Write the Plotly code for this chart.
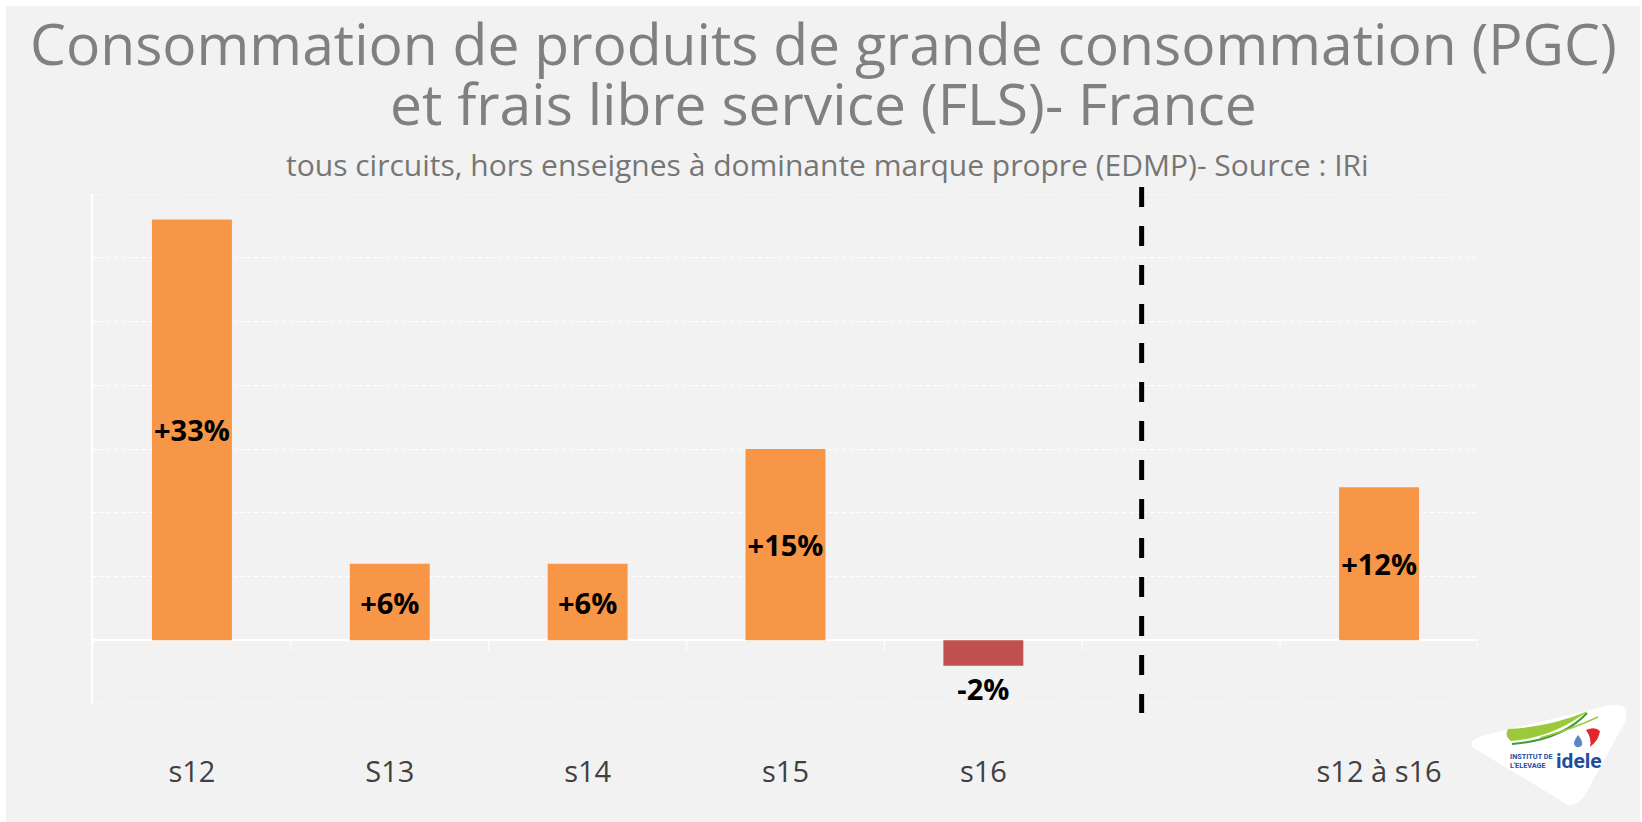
import plotly.graph_objects as go

# ---------------- data ----------------
categories = ["s12", "S13", "s14", "s15", "s16", " ", "s12 à s16"]
values = [33, 6, 6, 15, -2, None, 12]
title_line1 = "Consommation de produits de grande consommation (PGC)"
title_line2 = "et frais libre service (FLS)- France"
subtitle = "tous circuits, hors enseignes à dominante marque propre (EDMP)- Source : IRi"

ORANGE = "#F79646"
RED = "#C0504D"

# ---------------- layout geometry (pixels) ----------------
W, H = 1642, 822
X0, X1 = 93, 1478   # plot left/right
Y0, Y1 = 194, 704   # plot top/bottom


def px(x):
    return (x - X0) / (X1 - X0)


def py(y):
    return (Y1 - y) / (Y1 - Y0)


colors = [RED if (v is not None and v < 0) else ORANGE for v in values]
textpos = ["outside" if (v is not None and v < 0) else "inside" for v in values]
labels = ["" if v is None else f"{v:+d}%" for v in values]

fig = go.Figure()
fig.add_trace(go.Bar(
    x=categories, y=values,
    marker=dict(color=colors, line=dict(width=0)),
    text=labels,
    textposition=textpos,
    textangle=0,
    insidetextanchor="middle",
    constraintext="none",
    cliponaxis=False,
    textfont=dict(family="Open Sans", size=29, color="black", weight="bold"),
    hoverinfo="skip",
))

shapes = []
# background panel (white frame around grey)
shapes.append(dict(type="rect", xref="paper", yref="paper",
                   x0=px(6), x1=px(1640), y0=py(6), y1=py(822),
                   fillcolor="#F2F2F2", line=dict(width=0), layer="below"))
# edge gridlines (top / bottom of the value range)
for yv in (-5, 35):
    shapes.append(dict(type="line", xref="paper", yref="y",
                       x0=0, x1=1, y0=yv, y1=yv,
                       line=dict(color="white", width=1, dash="4px,3px"), layer="below"))
# small ticks below the zero line at category boundaries
for k in range(len(categories) + 1):
    shapes.append(dict(type="line", xref="x", yref="y",
                       x0=k - 0.5, x1=k - 0.5, y0=0, y1=-0.78,
                       line=dict(color="white", width=1.2), layer="below"))
# dashed separator
shapes.append(dict(type="line", xref="x", yref="paper",
                   x0=4.8, x1=4.8, y0=py(187), y1=py(713),
                   line=dict(color="black", width=5, dash="20px,19px"), layer="above"))

# ---- logo ----
def P(x, y):
    return f"{px(x):.5f},{py(y):.5f}"
logo_path = (
    f"M {P(1486,735)} L {P(1606,706)} Q {P(1632,700)} {P(1625,722)} "
    f"L {P(1585,795)} Q {P(1573,812)} {P(1560,800)} "
    f"L {P(1477,750)} Q {P(1462,742)} {P(1486,735)} Z"
)
shapes.append(dict(type="path", xref="paper", yref="paper", path=logo_path,
                   fillcolor="white", line=dict(width=0), layer="above"))
green_path = (
    f"M {P(1508,729)} Q {P(1550,727)} {P(1588,711)} "
    f"Q {P(1552,738)} {P(1511,741)} Q {P(1504,736)} {P(1508,729)} Z"
)
shapes.append(dict(type="path", xref="paper", yref="paper", path=green_path,
                   fillcolor="#9CC93B", line=dict(width=0), layer="above"))
shapes.append(dict(type="path", xref="paper", yref="paper",
                   path=f"M {P(1512,744)} Q {P(1562,740)} {P(1587,713)}",
                   line=dict(color="#3E9B3A", width=2), layer="above"))
shapes.append(dict(type="path", xref="paper", yref="paper",
                   path=f"M {P(1540,738)} Q {P(1575,728)} {P(1598,717)}",
                   line=dict(color="#9CC93B", width=1.5), layer="above"))
red_path = (
    f"M {P(1586,730)} Q {P(1595,726)} {P(1600,731)} Q {P(1599,740)} {P(1590,747)} "
    f"Q {P(1592,738)} {P(1586,730)} Z"
)
shapes.append(dict(type="path", xref="paper", yref="paper", path=red_path,
                   fillcolor="#E3262B", line=dict(width=0), layer="above"))
shapes.append(dict(type="path", xref="paper", yref="paper",
                   path=f"M {P(1578,735)} Q {P(1572,743)} {P(1575,746)} Q {P(1579,749)} {P(1582,745)} Q {P(1583,741)} {P(1578,735)} Z",
                   fillcolor="#5B86C5", line=dict(width=0), layer="above"))

annotations = [
    dict(text=title_line1, x=px(823), y=py(43), xref="paper", yref="paper",
         xanchor="center", yanchor="middle", showarrow=False,
         font=dict(family="Open Sans", size=57, color="#808080")),
    dict(text=title_line2, x=px(824), y=py(103), xref="paper", yref="paper",
         xanchor="center", yanchor="middle", showarrow=False,
         font=dict(family="Open Sans", size=57, color="#808080")),
    dict(text=subtitle, x=px(827), y=py(164), xref="paper", yref="paper",
         xanchor="center", yanchor="middle", showarrow=False,
         font=dict(family="Open Sans", size=30, color="#767676")),
    dict(text="INSTITUT DE<br>L'ELEVAGE", x=px(1508), y=py(761), xref="paper", yref="paper",
         xanchor="left", yanchor="middle", showarrow=False, align="left",
         font=dict(family="Roboto", size=7.3, color="#1F4E9C", weight="bold")),
    dict(text="idele", x=px(1579), y=py(761), xref="paper", yref="paper",
         xanchor="center", yanchor="middle", showarrow=False,
         font=dict(family="Roboto", size=21, color="#1F4E9C", weight="bold")),
]

fig.update_layout(
    width=W, height=H, autosize=False,
    margin=dict(l=X0, r=W - X1, t=Y0, b=H - Y1, pad=0),
    paper_bgcolor="white",
    plot_bgcolor="rgba(0,0,0,0)",
    showlegend=False,
    bargap=0.596,
    shapes=shapes,
    annotations=annotations,
    xaxis=dict(type="category", range=[-0.5, len(categories) - 0.5],
               showgrid=False, showline=False, zeroline=False, ticks="",
               tickfont=dict(family="Open Sans", size=29, color="#404040"),
               ticklabelstandoff=48, fixedrange=True),
    yaxis=dict(range=[-5, 35], tick0=0, dtick=5, showticklabels=False,
               showgrid=True, gridcolor="white", gridwidth=1, griddash="4px,3px",
               zeroline=True, zerolinecolor="white", zerolinewidth=1.5,
               showline=True, linecolor="white", linewidth=1.5, ticks="",
               fixedrange=True),
)

fig.write_html("out.html", config={"displayModeBar": False},
               post_script="document.body.style.margin='0';document.body.style.overflow='hidden';")
